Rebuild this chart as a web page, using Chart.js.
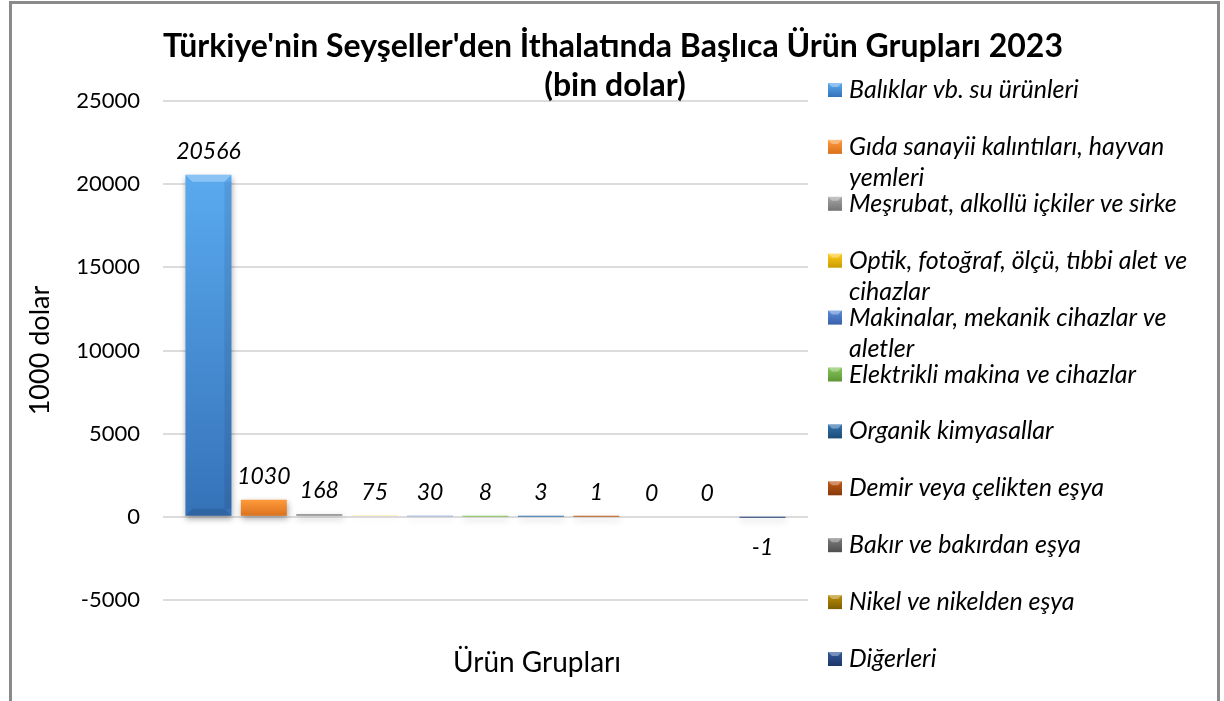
<!DOCTYPE html>
<html>
<head>
<meta charset="utf-8">
<script src="https://cdn.jsdelivr.net/npm/chart.js@4.4.0/dist/chart.umd.min.js"></script>
<style>
	html, body { margin: 0; padding: 0; background: #fff; overflow: hidden; }
	#wrap { position: relative; width: 1224px; height: 701px; }
	#frame { position: absolute; left: 9px; top: 1px; width: 1205px; height: 740px; border: 3px solid #8a8a8a; pointer-events: none; }
</style>
</head>
<body>
<div id="wrap">
	<canvas id="myChart" width="1224" height="701"></canvas>
	<div id="frame"></div>
</div>
<script>
// data
const titleLines = ["Türkiye'nin Seyşeller'den İthalatında Başlıca Ürün Grupları 2023", "(bin dolar)"];
const groups = [
	"Balıklar vb. su ürünleri",
	"Gıda sanayii kalıntıları, hayvan yemleri",
	"Meşrubat, alkollü içkiler ve sirke",
	"Optik, fotoğraf, ölçü, tıbbi alet ve cihazlar",
	"Makinalar, mekanik cihazlar ve aletler",
	"Elektrikli makina ve cihazlar",
	"Organik kimyasallar",
	"Demir veya çelikten eşya",
	"Bakır ve bakırdan eşya",
	"Nikel ve nikelden eşya",
	"Diğerleri"
];
const values = [20566, 1030, 168, 75, 30, 8, 3, 1, 0, 0, -1];
const yMin = -5000;
const yMax = 25000;
const yStep = 5000;
const yTitle = "1000 dolar";
const xTitle = "Ürün Grupları";

const colTop = ["#5aaaf0", "#ff9a3c", "#a6a6a6", "#ffcc1a", "#5b8ad8", "#86c65a", "#3274ad", "#c05a18", "#7c7c7c", "#bb8e08", "#31579a"];
const colBot = ["#3572b8", "#d9701c", "#747474", "#c99c00", "#3760ab", "#5d9636", "#1d4c78", "#86390a", "#4f4f4f", "#7d5d00", "#1e3766"];

const F = "Lato, 'Open Sans', sans-serif";

function barFill(i) {
	return function(c) {
		const chart = c.chart;
		const y = chart.scales.y;
		if (!y || !chart.chartArea) return colTop[i];
		const top = y.getPixelForValue(Math.max(values[i], 0));
		const bot = y.getPixelForValue(Math.min(values[i], 0));
		const g = chart.ctx.createLinearGradient(0, top, 0, Math.max(bot, top + 1));
		g.addColorStop(0, colTop[i]);
		g.addColorStop(1, colBot[i]);
		return g;
	};
}

const datasets = [];
for (var i = 0; i < groups.length; i++) {
	datasets.push({
		label: groups[i],
		data: [values[i]],
		backgroundColor: barFill(i),
		borderWidth: 0,
		categoryPercentage: 0.945,
		barPercentage: 0.83
	});
}

function wrapText(ctx, text, maxW) {
	const words = text.split(" ");
	const lines = [];
	let cur = "";
	for (var k = 0; k < words.length; k++) {
		const test = cur ? cur + " " + words[k] : words[k];
		if (ctx.measureText(test).width > maxW && cur) {
			lines.push(cur);
			cur = words[k];
		} else {
			cur = test;
		}
	}
	lines.push(cur);
	return lines;
}

const decor = {
	id: 'decor',
	beforeDatasetsDraw(chart) {
		const ctx = chart.ctx;
		ctx.save();
		ctx.shadowColor = "rgba(0,0,0,0.35)";
		ctx.shadowBlur = 6;
		ctx.shadowOffsetX = 1;
		ctx.shadowOffsetY = 3;
	},
	afterDatasetsDraw(chart) {
		const ctx = chart.ctx;
		ctx.restore();
		// bevel + value labels
		for (var i = 0; i < values.length; i++) {
			const el = chart.getDatasetMeta(i).data[0];
			const x = el.x, y = el.y, b = el.base, w = el.width;
			const h = Math.abs(b - y);
			if (h > 20) {
				const l = x - w / 2, r = x + w / 2, d = 7;
				ctx.save();
				ctx.fillStyle = "rgba(255,255,255,0.3)";
				ctx.beginPath();
				ctx.moveTo(l, y); ctx.lineTo(r, y); ctx.lineTo(r - d, y + d); ctx.lineTo(l + d, y + d);
				ctx.closePath(); ctx.fill();
				ctx.fillStyle = "rgba(0,0,0,0.12)";
				ctx.beginPath();
				ctx.moveTo(l, b); ctx.lineTo(r, b); ctx.lineTo(r - d, b - d); ctx.lineTo(l + d, b - d);
				ctx.closePath(); ctx.fill();
				ctx.fillStyle = "rgba(0,0,0,0.08)";
				ctx.fillRect(r - d, y + d, d, h - 2 * d);
				ctx.restore();
			}
			ctx.save();
			ctx.font = "italic 23px " + F;
			ctx.fillStyle = "#000";
			ctx.textAlign = "center";
			if (values[i] < 0) {
				ctx.textBaseline = "top";
				ctx.fillText(String(values[i]), x, b + 18);
			} else {
				ctx.textBaseline = "bottom";
				ctx.fillText(String(values[i]), x, Math.min(y, b) - 12);
			}
			ctx.restore();
		}
	},
	afterDraw(chart) {
		const ctx = chart.ctx;
		ctx.save();
		// title
		ctx.fillStyle = "#000";
		ctx.textAlign = "center";
		ctx.textBaseline = "middle";
		ctx.font = "bold 32px " + F;
		ctx.fillText(titleLines[0], 613, 47);
		ctx.fillText(titleLines[1], 615, 86);
		// x axis title
		ctx.font = "28px " + F;
		ctx.fillText(xTitle, 537, 663);
		// legend
		ctx.font = "italic 25px " + F;
		ctx.textAlign = "left";
		for (var i = 0; i < groups.length; i++) {
			const cy = 90 + i * 56.9;
			const g = ctx.createLinearGradient(0, cy - 7, 0, cy + 7);
			g.addColorStop(0, colTop[i]);
			g.addColorStop(1, colBot[i]);
			ctx.fillStyle = g;
			ctx.fillRect(828, cy - 7, 14, 14);
			ctx.fillStyle = "rgba(255,255,255,0.35)";
			ctx.beginPath();
			ctx.moveTo(828, cy - 7); ctx.lineTo(842, cy - 7); ctx.lineTo(838, cy - 3); ctx.lineTo(832, cy - 3);
			ctx.closePath(); ctx.fill();
			ctx.fillStyle = "#000";
			const lines = wrapText(ctx, groups[i], 362);
			for (var k = 0; k < lines.length; k++) {
				ctx.fillText(lines[k], 849, cy + k * 31);
			}
		}
		ctx.restore();
	}
};

const myChart = document.getElementById("myChart");
const Chart1 = new Chart(myChart, {
	type: 'bar',
	data: { labels: [""], datasets: datasets },
	options: {
		responsive: false,
		animation: false,
		devicePixelRatio: 1,
		layout: { padding: { top: 101, bottom: 101, left: 24, right: 416 } },
		plugins: { legend: { display: false }, title: { display: false }, tooltip: { enabled: false } },
		scales: {
			x: { display: false },
			y: {
				min: yMin,
				max: yMax,
				ticks: {
					stepSize: yStep, color: "#000", font: { family: F, size: 22 }, padding: 23,
					callback: function(v) { return String(v); }
				},
				grid: { color: "#dcdcdc", lineWidth: 2, drawTicks: false },
				border: { display: false },
				title: { display: true, text: yTitle, color: "#000", font: { family: F, size: 27 }, padding: 0 },
				afterFit: function(s) { s.width = 139; }
			}
		}
	},
	plugins: [decor]
});
</script>
</body>
</html>
